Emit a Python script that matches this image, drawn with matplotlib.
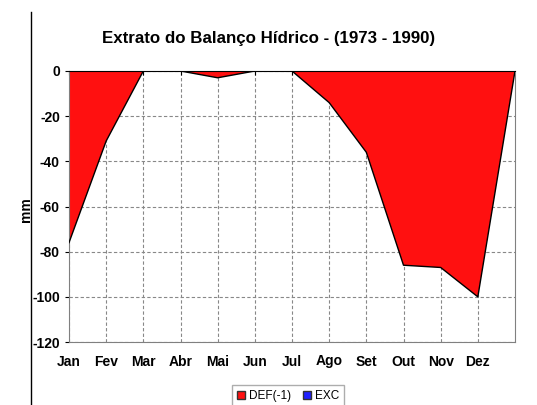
import matplotlib
matplotlib.use("Agg")
import matplotlib.pyplot as plt
from matplotlib.lines import Line2D
from matplotlib.patches import Patch
import numpy as np

plt.rcParams['font.family'] = ['Liberation Sans', 'DejaVu Sans']

months = ["Jan", "Fev", "Mar", "Abr", "Mai", "Jun", "Jul", "Ago", "Set", "Out", "Nov", "Dez"]
# DEF(-1) values, with closing point at the end of the year
def_values = [-76, -31, 0, 0, -3, 0, 0, -14, -36, -86, -87, -100, 0]
exc_values = [0, 0, 0, 0, 0, 0, 0, 0, 0, 0, 0, 0, 0]
yticks = [0, -20, -40, -60, -80, -100, -120]

fig = plt.figure(figsize=(5.37, 4.05), dpi=100)
ax = fig.add_axes([69/537, 1-342/405, (515-69)/537, (342-71)/405])

x = np.arange(len(def_values))
ax.fill_between(x, 0, def_values, facecolor='#FF1010', edgecolor='none', zorder=2, linewidth=0)
ax.plot(x, def_values, color='black', linewidth=1.0, zorder=3)
ax.fill_between(x, 0, exc_values, facecolor='#2020FF', edgecolor='none', zorder=2)

ax.set_xlim(0, 12)
ax.set_ylim(-120, 0)
ax.set_xticks(np.arange(12))
ax.set_xticklabels(months, fontweight='bold', fontsize=10)
ax.set_yticks(yticks)
ax.set_yticklabels([str(v) for v in yticks], fontweight='bold', fontsize=10)
ax.tick_params(axis='x', top=True, bottom=False, labeltop=False, labelbottom=True,
               direction='in', length=3, pad=9, width=0.8)
ax.tick_params(axis='y', direction='out', length=3, width=0.8)
ax.grid(True, color='#888888', linestyle=(0, (3, 2)), linewidth=0.8, zorder=1)
ax.set_axisbelow(True)
for s in ax.spines.values():
    s.set_color('#808080')
    s.set_linewidth(0.8)
ax.spines['top'].set_color('black')
ax.spines['top'].set_zorder(4)
ax.set_ylabel('mm', fontweight='bold', fontsize=10, va='center')
ax.yaxis.set_label_coords((26-69)/446, 1-(210-71)/271)

fig.text(0.5, 1-38/405, 'Extrato do Balanço Hídrico - (1973 - 1990)', ha='center', va='center',
         fontweight='bold', fontsize=12.2)

fig.add_artist(Line2D([31/537, 31/537], [0, 1-12/405], color='black', linewidth=1.0))

handles = [Patch(facecolor='#FF1010', edgecolor='#333333', label='DEF(-1)'),
           Patch(facecolor='#2020FF', edgecolor='#333333', label='EXC')]
fig.legend(handles=handles, loc='center', bbox_to_anchor=(288/537, 1-396/405), ncol=2,
           fontsize=8.5, frameon=True, fancybox=False, edgecolor='#999999',
           handlelength=0.7, handleheight=0.7, handletextpad=0.3, columnspacing=1.0,
           borderpad=0.4)

fig.savefig('out.png', dpi=100)
